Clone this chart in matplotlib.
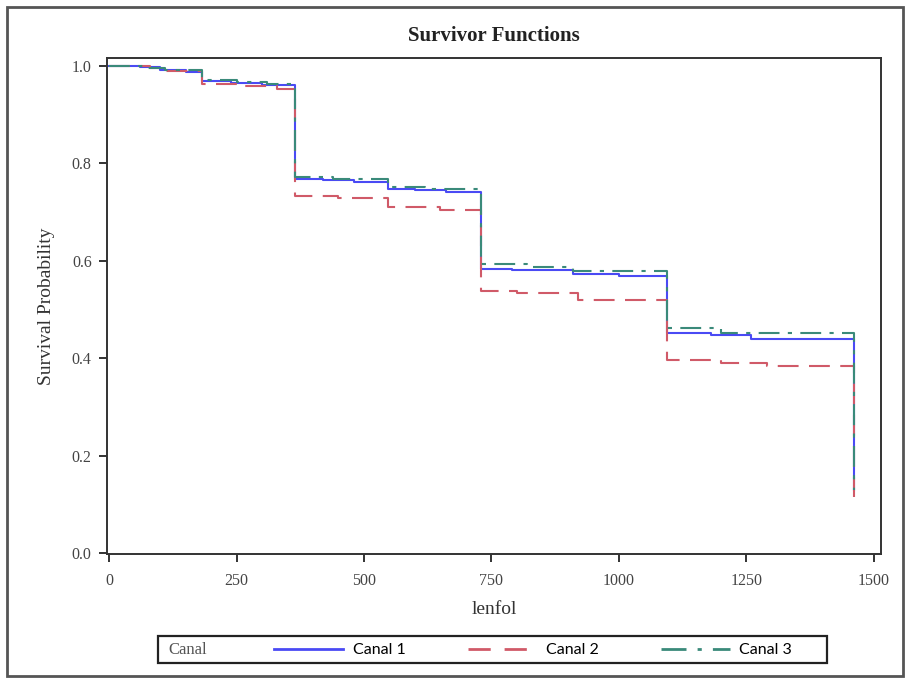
import matplotlib
matplotlib.use("Agg")
from matplotlib import pyplot as plt
from matplotlib.patches import Rectangle
from matplotlib.lines import Line2D

# Kaplan-Meier style step data
t_canal1 = [0, 60, 100, 150, 182, 240, 300, 365, 420, 480, 548, 600, 660,
            730, 790, 910, 1000, 1095, 1180, 1260, 1462]
s_canal1 = [1.0, 0.997, 0.992, 0.988, 0.968, 0.964, 0.96, 0.768, 0.765, 0.762,
            0.748, 0.745, 0.742, 0.583, 0.58, 0.572, 0.568, 0.452, 0.447, 0.44,
            0.13]

t_canal2 = [0, 80, 110, 182, 260, 330, 365, 450, 548, 650, 730, 800, 920,
            1095, 1200, 1290, 1462]
s_canal2 = [1.0, 0.995, 0.99, 0.963, 0.958, 0.952, 0.733, 0.728, 0.71, 0.704,
            0.537, 0.533, 0.52, 0.396, 0.39, 0.383, 0.115]

t_canal3 = [0, 70, 110, 182, 250, 310, 365, 440, 548, 620, 730, 820, 910,
            1095, 1200, 1462]
s_canal3 = [1.0, 0.996, 0.991, 0.97, 0.966, 0.962, 0.772, 0.768, 0.752, 0.748,
            0.593, 0.588, 0.578, 0.462, 0.452, 0.13]

labels = ["Canal 1", "Canal 2", "Canal 3"]
x_ticks = [0, 250, 500, 750, 1000, 1250, 1500]
y_ticks = [0.0, 0.2, 0.4, 0.6, 0.8, 1.0]

serif = "Liberation Serif"
blue, red, green = "#4a4af4", "#d05a68", "#3a8a7a"

fig = plt.figure(figsize=(9.07, 6.79), dpi=100)
W, H = 907, 679
ax = fig.add_axes([107 / W, 1 - 554 / H, (881 - 107) / W, (554 - 58) / H])

ax.step(t_canal1, s_canal1, where="post", color=blue, lw=1.5)
ax.step(t_canal2, s_canal2, where="post", color=red, lw=1.5,
        dashes=(10, 5))
ax.step(t_canal3, s_canal3, where="post", color=green, lw=1.5,
        dashes=(10, 4, 2, 4))

ax.set_xlim(-4, 1514)
ax.set_ylim(-0.002, 1.016)
ax.set_xticks(x_ticks)
ax.set_yticks(y_ticks)
ax.set_xticklabels([str(v) for v in x_ticks])
ax.set_yticklabels(["%.1f" % v for v in y_ticks])
for s in ax.spines.values():
    s.set_linewidth(1.4)
    s.set_color("#333333")
ax.tick_params(direction="out", length=6, width=1.4, color="#333333",
               labelsize=11.5, labelcolor="#444444", pad=5)
ax.tick_params(axis="x", pad=8)
for lab in ax.get_xticklabels() + ax.get_yticklabels():
    lab.set_family(serif)

ax.set_xlabel("lenfol", family=serif, fontsize=14, color="#333333",
              labelpad=8)
ax.set_ylabel("Survival Probability", family=serif, fontsize=14,
              color="#333333", labelpad=12)
fig.text(494 / W, 1 - 36 / H, "Survivor Functions", family=serif,
         fontsize=15, fontweight="bold", ha="center", va="center",
         color="#222222")

# outer frame
fig.add_artist(Rectangle((7 / W, 1 - 676 / H), (903 - 7) / W, (676 - 7) / H,
                         transform=fig.transFigure, fill=False,
                         lw=2, ec="#555555"))

# legend box
fig.add_artist(Rectangle((158 / W, 1 - 663 / H), (827 - 158) / W,
                         (663 - 636) / H, transform=fig.transFigure,
                         fill=False, lw=1.6, ec="#222222"))
fig.text(168 / W, 1 - 650 / H, "Canal", family=serif, fontsize=12,
         color="#555555", va="center")
handles = [Line2D([], [], color=blue, lw=2),
           Line2D([], [], color=red, lw=2, dashes=(8, 5)),
           Line2D([], [], color=green, lw=2, dashes=(9, 4, 1.5, 4))]
leg = fig.legend(handles, labels, ncol=3, frameon=False,
                 loc="center left", bbox_to_anchor=(260 / W, 1 - 650 / H),
                 handlelength=4.3, handletextpad=0.6, columnspacing=3.9,
                 prop={"family": "Lato", "size": 11.5})

fig.savefig("out.png", dpi=100)
